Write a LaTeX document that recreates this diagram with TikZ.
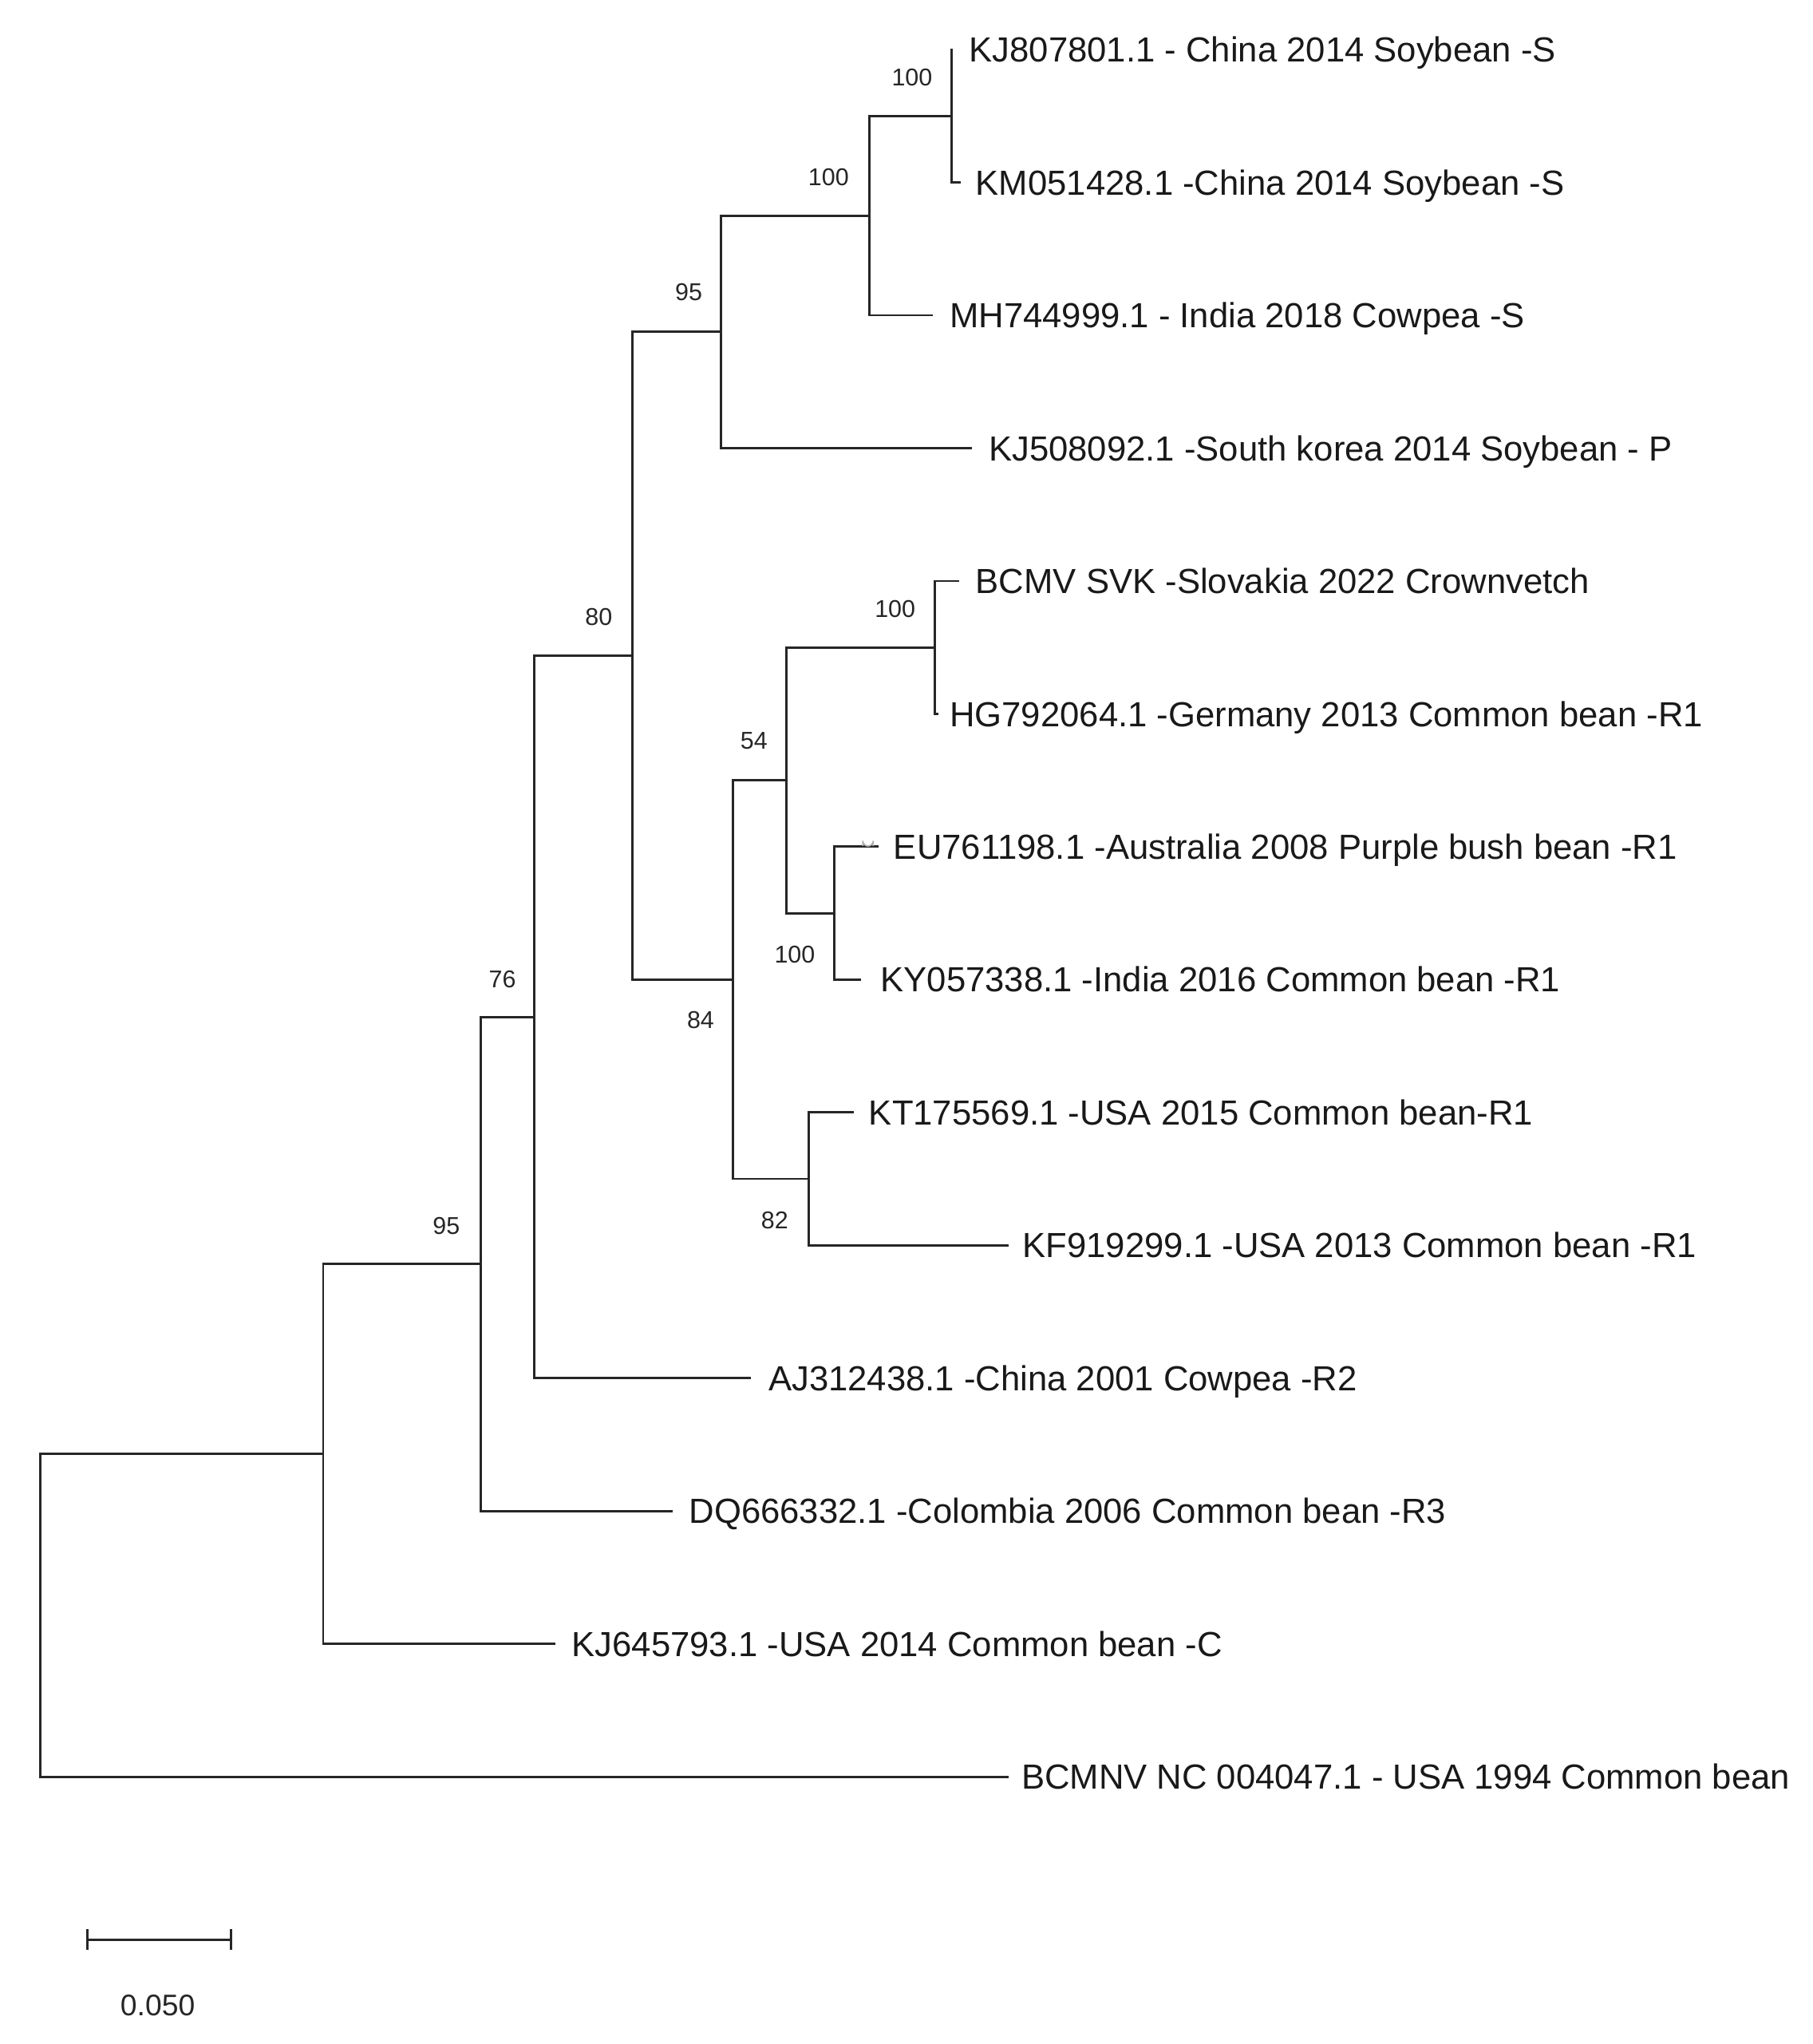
\documentclass[tikz,border=0pt]{standalone}
\usepackage{fontspec}
\setmainfont{Liberation Sans}
\usetikzlibrary{calc}
\begin{document}
\begin{tikzpicture}[x=0.01cm,y=-0.01cm,
  br/.style={line width=0.5pt, draw=black!85, line cap=rect},
  leaf/.style={anchor=west, inner sep=0pt, font=\fontsize{7.6}{9}\selectfont, text height=5.45pt, text depth=0pt, text=black!90},
  bs/.style={anchor=east, inner sep=0pt, font=\fontsize{5.3}{6}\selectfont, text height=3.8pt, text depth=0pt, text=black!85}]
\useasboundingbox (0,0) rectangle (1391,1568);
% leaf tips
\coordinate (t1) at (730,38);
\coordinate (t2) at (736,139.9);
\coordinate (t3) at (715,241.8);
\coordinate (t4) at (745,343.8);
\coordinate (t5) at (735,445.7);
\coordinate (t6) at (719,547.6);
\coordinate (t7) at (673,649.5);
\coordinate (t8) at (660,751.4);
\coordinate (t9) at (654,853.4);
\coordinate (t10) at (773,955.3);
\coordinate (t11) at (575,1057.2);
\coordinate (t12) at (515,1159.1);
\coordinate (t13) at (425,1261.0);
\coordinate (t14) at (773,1363.0);
% internal nodes
\coordinate (H) at (730,89);
\coordinate (G) at (667,165.4);
\coordinate (E) at (553,254.6);
\coordinate (K) at (717,496.7);
\coordinate (L) at (640,700.5);
\coordinate (I) at (603.6,598.6);
\coordinate (J) at (620.5,904.3);
\coordinate (F) at (562.6,751.5);
\coordinate (D) at (485,503);
\coordinate (C) at (410,780.1);
\coordinate (B) at (369,969.6);
\coordinate (A) at (248,1115.3);
\coordinate (R) at (31,1239);
% branches
\draw[br] (R) |- (A);  \draw[br] (R) |- (t14);
\draw[br] (A) |- (B);  \draw[br] (A) |- (t13);
\draw[br] (B) |- (C);  \draw[br] (B) |- (t12);
\draw[br] (C) |- (D);  \draw[br] (C) |- (t11);
\draw[br] (D) |- (E);  \draw[br] (D) |- (F);
\draw[br] (E) |- (G);  \draw[br] (E) |- (t4);
\draw[br] (G) |- (H);  \draw[br] (G) |- (t3);
\draw[br] (H) |- (t1); \draw[br] (H) |- (t2);
\draw[br] (F) |- (I);  \draw[br] (F) |- (J);
\draw[br] (I) |- (K);  \draw[br] (I) |- (L);
\draw[br] (K) |- (t5); \draw[br] (K) |- (t6);
\draw[br] (L) |- (t7); \draw[br] (L) |- (t8);
\draw[br] (J) |- (t9); \draw[br] (J) |- (t10);
% small mark near EU761198
\draw[gray!60, line width=0.3pt] (662,649) -- (662,645) arc (180:0:4) -- (670,649);
% leaf labels
\node[leaf] (l1) at (743,38) {KJ807801.1 - China 2014 Soybean -S};
\node[leaf] (l2) at (748,139.9) {KM051428.1 -China 2014 Soybean -S};
\node[leaf] (l3) at (728,241.8) {MH744999.1 - India 2018 Cowpea -S};
\node[leaf] (l4) at (758,343.8) {KJ508092.1 -South korea 2014 Soybean - P};
\node[leaf] (l5) at (748,445.7) {BCMV SVK -Slovakia 2022 Crownvetch};
\node[leaf] (l6) at (728,547.6) {HG792064.1 -Germany 2013 Common bean -R1};
\node[leaf] (l7) at (685,649.5) {EU761198.1 -Australia 2008 Purple bush bean -R1};
\node[leaf] (l8) at (675,751.4) {KY057338.1 -India 2016 Common bean -R1};
\node[leaf] (l9) at (666,853.4) {KT175569.1 -USA 2015 Common bean-R1};
\node[leaf] (l10) at (784,955.3) {KF919299.1 -USA 2013 Common bean -R1};
\node[leaf] (l11) at (589,1057.2) {AJ312438.1 -China 2001 Cowpea -R2};
\node[leaf] (l12) at (528,1159.1) {DQ666332.1 -Colombia 2006 Common bean -R3};
\node[leaf] (l13) at (438,1261.0) {KJ645793.1 -USA 2014 Common bean -C};
\node[leaf] (l14) at (783,1363.0) {BCMNV NC 004047.1 - USA 1994 Common bean};
% bootstrap values
\node[bs] (bH) at ($(H)+(-14,-30)$) {100};
\node[bs] (bG) at ($(G)+(-15,-30)$) {100};
\node[bs] (bE) at ($(E)+(-13.5,-30.5)$) {95};
\node[bs] (bD) at ($(D)+(-14.5,-30)$) {80};
\node[bs] (bC) at ($(C)+(-13.5,-29)$) {76};
\node[bs] (bB) at ($(B)+(-15.5,-29.5)$) {95};
\node[bs] (bK) at ($(K)+(-14,-29.7)$) {100};
\node[bs] (bI) at ($(I)+(-14,-30.5)$) {54};
\node[bs] (bL) at ($(L)+(-14,31.5)$) {100};
\node[bs] (bF) at ($(F)+(-14,30.5)$) {84};
\node[bs] (bJ) at ($(J)+(-15,31.7)$) {82};
% scale bar
\coordinate (s1) at (67,1488);
\coordinate (s2) at (177,1488);
\draw[br, line cap=butt] (s1) -- (s2);
\draw[br, line cap=butt] ($(s1)+(0,-8)$) -- ($(s1)+(0,8)$);
\draw[br, line cap=butt] ($(s2)+(0,-8)$) -- ($(s2)+(0,8)$);
\node[inner sep=0pt, font=\fontsize{6.5}{8}\selectfont, text height=4.65pt, text depth=0pt, text=black!85] (sl) at (121,1538) {0.050};
\end{tikzpicture}
\end{document}
